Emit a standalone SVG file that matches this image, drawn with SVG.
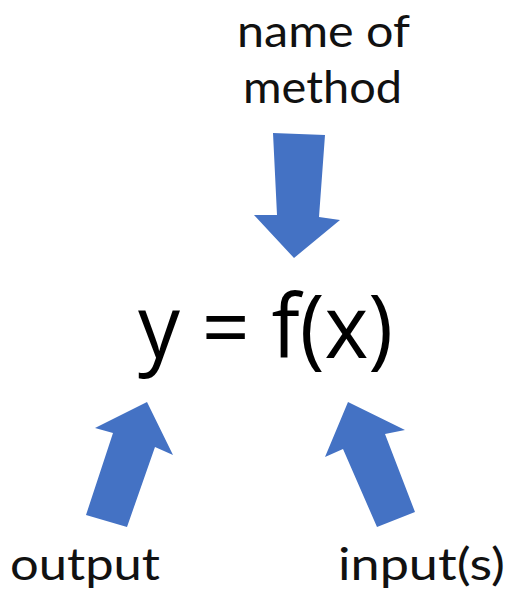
<svg xmlns="http://www.w3.org/2000/svg" width="512" height="599" viewBox="0 0 512 599">
<style>
.lbl{font-family:Lato,"Open Sans",sans-serif;fill:#111;font-size:44px}
.eq{font-family:"Open Sans","Liberation Sans",sans-serif;fill:#000;font-size:88px}
.arr{fill:#4472C4}
</style>
<rect width="512" height="599" fill="#fff"/>
<g id="name">
<text class="lbl" x="237" y="47" textLength="173" lengthAdjust="spacingAndGlyphs">name of</text>
<text class="lbl" x="243" y="103" textLength="159" lengthAdjust="spacingAndGlyphs">method</text>
</g>
<g id="equation">
<text class="eq" x="138" y="358" textLength="255" lengthAdjust="spacingAndGlyphs">y = f(x)</text>
</g>
<g id="output">
<text class="lbl" x="10" y="580" textLength="150" lengthAdjust="spacingAndGlyphs">output</text>
</g>
<g id="inputs">
<text class="lbl" x="338" y="580" textLength="167" lengthAdjust="spacingAndGlyphs">input(s)</text>
</g>
<g id="connectors">
<polygon class="arr" points="273,133 325,135 319,217 340,220 294,258 254,215 277,215"/>
<polygon class="arr" points="147,402 173,455 155,447 127,527 86,515 113,433 95,428"/>
<polygon class="arr" points="348,402 405,430 385,434 415,512 377,527 343,449 325,457"/>
</g>
</svg>
